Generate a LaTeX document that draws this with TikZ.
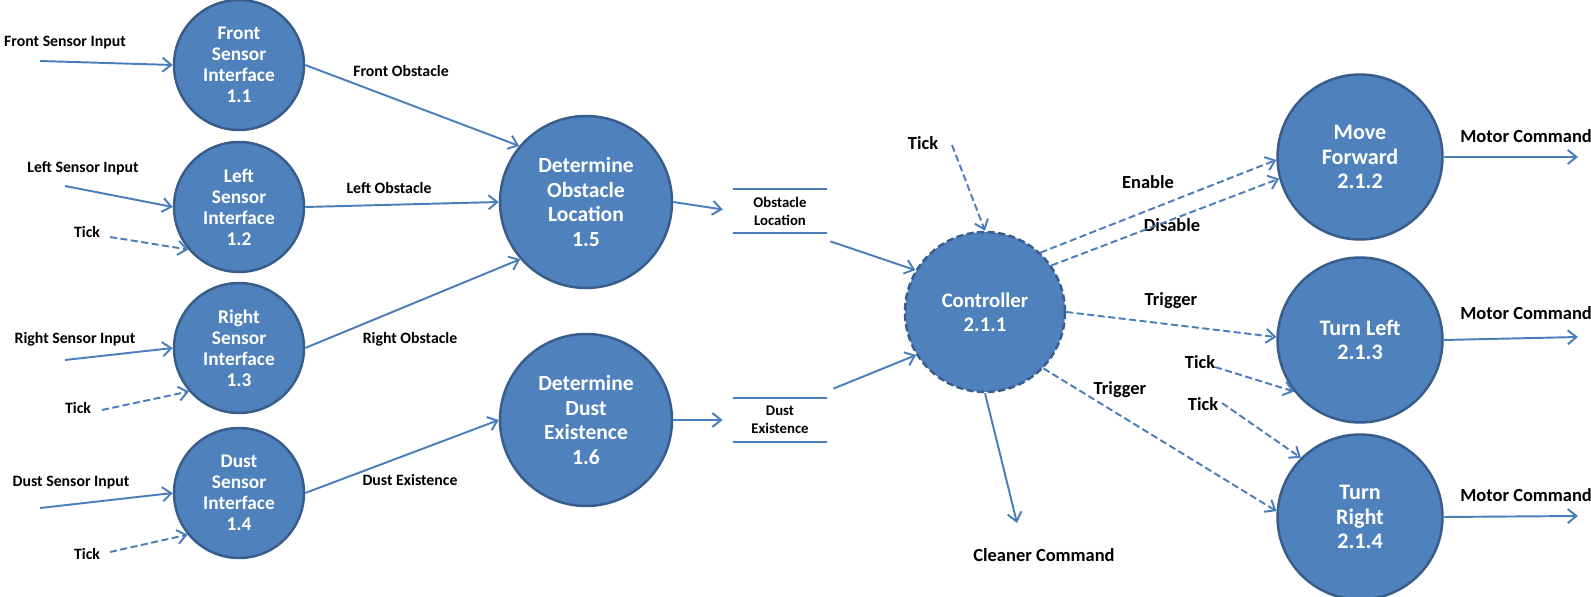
\documentclass[tikz,border=0pt]{standalone}
\usepackage{fontspec}
\setmainfont{Carlito}
\usetikzlibrary{arrows.meta}
\definecolor{procfill}{RGB}{79, 129, 189}
\definecolor{procedge}{RGB}{56, 93, 138}
\definecolor{flowcol}{RGB}{74, 126, 187}

\begin{document}
\begin{tikzpicture}[x=0.02cm, y=-0.02cm,
		proc/.style={circle, fill=procfill, draw=procedge, line width=1.4pt, text=white, align=center, inner sep=0pt},
		sensor/.style={proc, minimum size=2.6cm, font=\bfseries\fontsize{11}{12}\selectfont},
		bigproc/.style={proc, minimum size=3.3cm, font=\bfseries\fontsize{12.3}{14.2}\selectfont},
		flow/.style={-{Straight Barb[length=5pt,width=8pt]}, draw=flowcol, line width=1.1pt},
		event/.style={flow, dash pattern=on 4pt off 2pt},
		lbl/.style={font=\bfseries\fontsize{9}{10}\selectfont, inner sep=0pt},
		biglbl/.style={font=\bfseries\fontsize{10.5}{12}\selectfont, inner sep=0pt},
		store/.style={font=\bfseries\fontsize{8.4}{10.2}\selectfont, align=center, minimum width=1.88cm, minimum height=0.88cm, inner sep=0pt}]
		\fill[white] (0,0) rectangle (1591,597);
		\useasboundingbox (0,0) rectangle (1591,597);
		% processes
		\node[sensor] (s1) at (239,65) {Front\\Sensor\\Interface\\1.1};
		\node[sensor] (s2) at (239,207) {Left\\Sensor\\Interface\\1.2};
		\node[sensor] (s3) at (239,348) {Right\\Sensor\\Interface\\1.3};
		\node[sensor] (s4) at (239,493) {Dust\\Sensor\\Interface\\1.4};
		\node[bigproc, minimum size=3.44cm] (dol) at (586,202) {Determine\\Obstacle\\Location\\1.5};
		\node[bigproc, minimum size=3.44cm] (dde) at (586,420) {Determine\\Dust\\Existence\\1.6};
		\node[bigproc, minimum size=3.2cm, dash pattern=on 4pt off 2pt, font=\bfseries\fontsize{11.8}{13.6}\selectfont] (ctrl) at (985,312) {Controller\\2.1.1};
		\node[bigproc, font=\bfseries\fontsize{12.6}{14}\selectfont] (mf) at (1360,157) {Move\\Forward\\2.1.2};
		\node[bigproc, font=\bfseries\fontsize{12.6}{14}\selectfont] (tl) at (1360,340) {Turn Left\\2.1.3};
		\node[bigproc, font=\bfseries\fontsize{12.6}{14}\selectfont] (tr) at (1360,517) {Turn\\Right\\2.1.4};
		% data stores
		\node[store] (st1) at (780,211) {Obstacle\\Location};
		\node[store] (st2) at (780,420) {Dust\\Existence};
		\draw[flowcol, line width=1.1pt] (st1.north west) -- (st1.north east) (st1.south west) -- (st1.south east);
		\draw[flowcol, line width=1.1pt] (st2.north west) -- (st2.north east) (st2.south west) -- (st2.south east);
		% labels
		\node[lbl] (in1) at (65,43) {Front Sensor Input};
		\node[lbl] (in2) at (83,168) {Left Sensor Input};
		\node[lbl] (in3) at (75,339) {Right Sensor Input};
		\node[lbl] (in4) at (71,483) {Dust Sensor Input};
		\node[lbl] (tk2) at (87,232) {Tick};
		\node[lbl] (tk3) at (78,408) {Tick};
		\node[lbl] (tk4) at (87,554) {Tick};
		\node[lbl] (lfo) at (401,71) {Front Obstacle};
		\node[lbl] (llo) at (389,188) {Left Obstacle};
		\node[lbl] (lro) at (410,339) {Right Obstacle};
		\node[lbl] (lde) at (410,480) {Dust Existence};
		\node[biglbl] (tk0) at (923,143) {Tick};
		\node[biglbl] (len) at (1148,182) {Enable};
		\node[biglbl] (ldis) at (1172,225) {Disable};
		\node[biglbl] (ltr1) at (1171,301) {Trigger};
		\node[biglbl] (ltr2) at (1120,390) {Trigger};
		\node[biglbl] (tkl) at (1200,362) {Tick};
		\node[biglbl] (tkr) at (1203,404) {Tick};
		\node[biglbl, anchor=west] (mc1) at (1460,136) {Motor Command};
		\node[biglbl, anchor=west] (mc2) at (1460,313) {Motor Command};
		\node[biglbl, anchor=west] (mc3) at (1460,495) {Motor Command};
		\node[biglbl] (cc) at (1044,555) {Cleaner Command};
		% free ends
		\coordinate (a1) at (40,61);
		\coordinate (a2) at (65,186);
		\coordinate (a3) at (65,360);
		\coordinate (a4) at (40,508);
		\coordinate (t2) at (110,237);
		\coordinate (t3) at (102,410);
		\coordinate (t4) at (110,552);
		\coordinate (t0) at (952,145);
		\coordinate (tL) at (1215,367);
		\coordinate (tR) at (1222,403);
		\coordinate (m1) at (1578,157);
		\coordinate (m2) at (1578,337);
		\coordinate (m3) at (1578,516);
		\coordinate (cl) at (1017,523);
		% inputs
		\draw[flow] (a1) -- (s1.west);
		\draw[flow] (a2) -- (s2.west);
		\draw[flow] (a3) -- (s3.west);
		\draw[flow] (a4) -- (s4.west);
		\draw[event] (t2) -- (s2.220);
		\draw[event] (t3) -- (s3.221);
		\draw[event] (t4) -- (s4.219);
		% level 1 flows
		\draw[flow] (s1.east) -- (dol.140);
		\draw[flow] (s2.east) -- (dol.west);
		\draw[flow] (s3.east) -- (dol.221);
		\draw[flow] (s4.east) -- (dde.west);
		\draw[flow, shorten >=5.7pt] (dol.east) -- (st1.west);
		\draw[flow, shorten >=5.7pt] (dde.east) -- (st2.west);
		\draw[flow] ([shift={(3,8)}]st1.south east) -- (ctrl.149);
		\draw[flow] ([shift={(6,-9)}]st2.north east) -- (ctrl.212);
		% controller
		\draw[event] (t0) -- (ctrl.north);
		\draw[event] (ctrl.47) -- (mf.182);
		\draw[event] (ctrl.35) -- (mf.195);
		\draw[event] (ctrl.east) -- (tl.178);
		\draw[event] (ctrl.316) -- (tr.176);
		\draw[event] (tL) -- (tl.218);
		\draw[event] (tR) -- (tr.135);
		\draw[flow] (mf.east) -- (m1);
		\draw[flow] (tl.east) -- (m2);
		\draw[flow] (tr.east) -- (m3);
		\draw[flow] (ctrl.south) -- (cl);
	\end{tikzpicture}
\end{document}
